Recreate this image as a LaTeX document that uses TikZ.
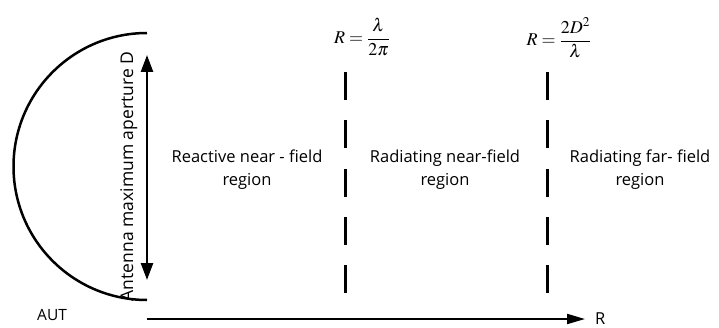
\documentclass[tikz,border=0pt]{standalone}
\usepackage{mathptmx}
\usepackage[no-math]{fontspec}
\setmainfont{Open Sans}
\usetikzlibrary{arrows.meta}
\tikzset{
  lbl/.style={font=\fontsize{16.5}{23}\selectfont, inner sep=0pt, align=center},
  formula/.style={font=\fontsize{18}{20}\selectfont, inner sep=0pt},
  bound/.style={line width=3pt, dash pattern=on 28pt off 20.25pt},
  tipA/.tip={Triangle[length=17pt,width=12pt]},
}
\begin{document}
\begin{tikzpicture}[x=1pt,y=1pt]
\useasboundingbox (0,0) rectangle (719,327);
% antenna arc
\coordinate (arctop) at (147,294);
\draw[line width=2.5pt] (arctop) arc[start angle=90,end angle=270,radius=133.5] coordinate (arcbot);
% aperture arrow
\coordinate (dtop) at (147,272);
\coordinate (dbot) at (147,47);
\draw[line width=2.5pt, tipA-tipA] (dtop) -- (dbot);
\node[lbl, font=\fontsize{17.5}{20}\selectfont, rotate=90, anchor=base] (ap) at (133,150.5) {Antenna maximum aperture D};
% boundaries
\coordinate (b1t) at (345,255); \coordinate (b1b) at (345,34);
\coordinate (b2t) at (547,255); \coordinate (b2b) at (547,34);
\draw[bound] (b1t) -- (b1b);
\draw[bound] (b2t) -- (b2b);
% formulas
\node[formula] (f1) at (362,290) {$\displaystyle R=\frac{\lambda}{2\pi}$};
\node[formula] (f2) at (559,289) {$\displaystyle R=\frac{2D^2}{\lambda}$};
% region labels
\node[lbl, anchor=base] (r1) at (247,165) {Reactive near - field};
\node[lbl, anchor=base] (r1b) at (247,142) {region};
\node[lbl, anchor=base] (r2) at (445,165) {Radiating near-field};
\node[lbl, anchor=base] (r2b) at (445,142) {region};
\node[lbl, anchor=base] (r3) at (640,165) {Radiating far- field};
\node[lbl, anchor=base] (r3b) at (640,142) {region};
% axis
\coordinate (o) at (147,8);
\node[lbl, anchor=base west, inner xsep=10pt] (R) at (585,3) {R};
\draw[line width=2pt, -{Triangle[length=18pt,width=10pt]}] (o) -- (o -| R.west);
\node[lbl, font=\fontsize{15.5}{20}\selectfont, anchor=base west] (aut) at (37,7) {AUT};
\end{tikzpicture}
\end{document}
